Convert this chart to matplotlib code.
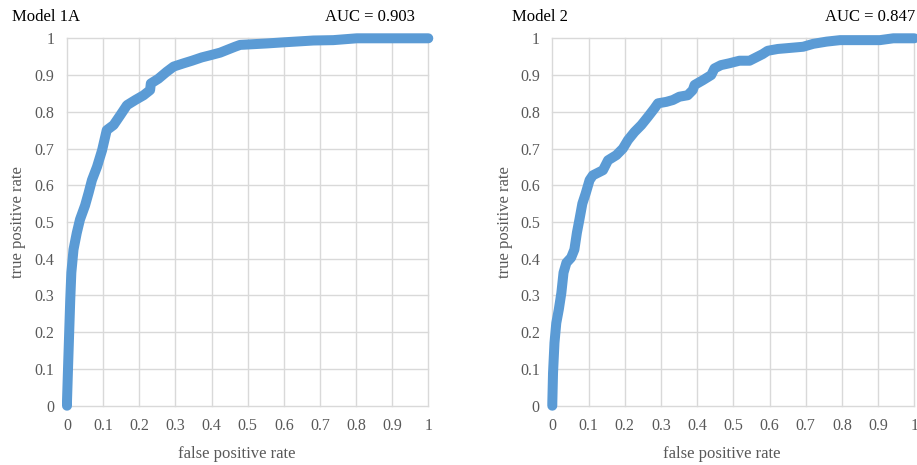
import numpy as np
import matplotlib
matplotlib.use("Agg")
import matplotlib.pyplot as plt

plt.rcParams['font.family'] = ['Liberation Serif', 'DejaVu Serif']

# ROC points
fpr_1a = [0, 0.0, 0.003, 0.006, 0.009, 0.012, 0.018, 0.027, 0.036, 0.05, 0.06,
          0.069, 0.083, 0.097, 0.11, 0.129, 0.147, 0.166, 0.189, 0.212, 0.23,
          0.232, 0.253, 0.276, 0.295, 0.323, 0.346, 0.373, 0.401, 0.424, 0.447,
          0.465, 0.479, 0.553, 0.599, 0.682, 0.737, 0.802, 1.0]
tpr_1a = [0, 0.012, 0.107, 0.198, 0.289, 0.362, 0.425, 0.47, 0.507, 0.545, 0.58,
          0.614, 0.65, 0.695, 0.75, 0.764, 0.79, 0.818, 0.832, 0.845, 0.859,
          0.877, 0.89, 0.909, 0.923, 0.932, 0.939, 0.948, 0.955, 0.961, 0.97,
          0.977, 0.982, 0.986, 0.989, 0.994, 0.995, 1.0, 1.0]

fpr_2 = [0, 0.0, 0.002, 0.006, 0.011, 0.018, 0.025, 0.031, 0.039, 0.052, 0.061,
         0.068, 0.075, 0.083, 0.092, 0.103, 0.112, 0.14, 0.154, 0.177, 0.195,
         0.209, 0.227, 0.246, 0.264, 0.282, 0.292, 0.315, 0.333, 0.351, 0.374,
         0.388, 0.393, 0.416, 0.439, 0.448, 0.466, 0.489, 0.517, 0.545, 0.563,
         0.581, 0.595, 0.623, 0.647, 0.693, 0.721, 0.758, 0.795, 0.905, 0.942, 1.0]
tpr_2 = [0, 0.007, 0.089, 0.171, 0.225, 0.262, 0.307, 0.362, 0.389, 0.403, 0.425,
         0.471, 0.507, 0.55, 0.577, 0.614, 0.627, 0.641, 0.668, 0.682, 0.7,
         0.723, 0.745, 0.764, 0.786, 0.809, 0.823, 0.827, 0.832, 0.841, 0.845,
         0.859, 0.873, 0.886, 0.9, 0.918, 0.927, 0.932, 0.939, 0.939, 0.948,
         0.957, 0.966, 0.971, 0.973, 0.977, 0.985, 0.991, 0.995, 0.995, 1.0, 1.0]

ticks = np.round(np.arange(0, 1.01, 0.1), 1)
tick_labels = ['0'] + ['%.1f' % t for t in ticks[1:-1]] + ['1']

W, H = 917, 465
fig = plt.figure(figsize=(W / 100, H / 100), dpi=100)

blue = '#5B9BD5'
grid_c = '#D9D9D9'
txt_c = '#595959'

panels = [
    (67, 428.3, fpr_1a, tpr_1a, 'Model 1A', 'AUC = 0.903', 12, 415, 18, 237),
    (552.3, 914.3, fpr_2, tpr_2, 'Model 2', 'AUC = 0.847', 512, 915, 505, 722),
]
top, bottom = 38.3, 405.7

for x0, x1, fpr, tpr, name, auc, name_x, auc_x, ylab_x, xlab_x in panels:
    ax = fig.add_axes([x0 / W, 1 - bottom / H, (x1 - x0) / W, (bottom - top) / H])
    ax.set_xlim(0, 1)
    ax.set_ylim(0, 1)
    for s in ax.spines.values():
        s.set_visible(False)
    for t in ticks:
        ax.axvline(t, color=grid_c, lw=1.0, zorder=0, clip_on=False)
        ax.axhline(t, color=grid_c, lw=1.0, zorder=0, clip_on=False)
    ax.plot(fpr, tpr, color=blue, lw=7.2, solid_capstyle='round',
            solid_joinstyle='round', clip_on=False, zorder=3)
    ax.set_xticks(ticks)
    ax.set_yticks(ticks)
    ax.set_xticklabels(tick_labels)
    ax.set_yticklabels(tick_labels)
    ax.tick_params(length=0, labelsize=11.5, labelcolor=txt_c)
    ax.tick_params(axis='x', pad=9)
    ax.tick_params(axis='y', pad=9)

    fig.text(name_x / W, 1 - 17 / H, name, ha='left', va='center',
             fontsize=12, color='#000000')
    fig.text(auc_x / W, 1 - 17 / H, auc, ha='right', va='center',
             fontsize=12, color='#000000')
    fig.text(ylab_x / W, 1 - 222 / H, 'true positive rate', rotation=90,
             ha='center', va='center', fontsize=12, color=txt_c)
    fig.text(xlab_x / W, 1 - 454 / H, 'false positive rate',
             ha='center', va='center', fontsize=12, color=txt_c)

fig.savefig('out.png', dpi=100)
